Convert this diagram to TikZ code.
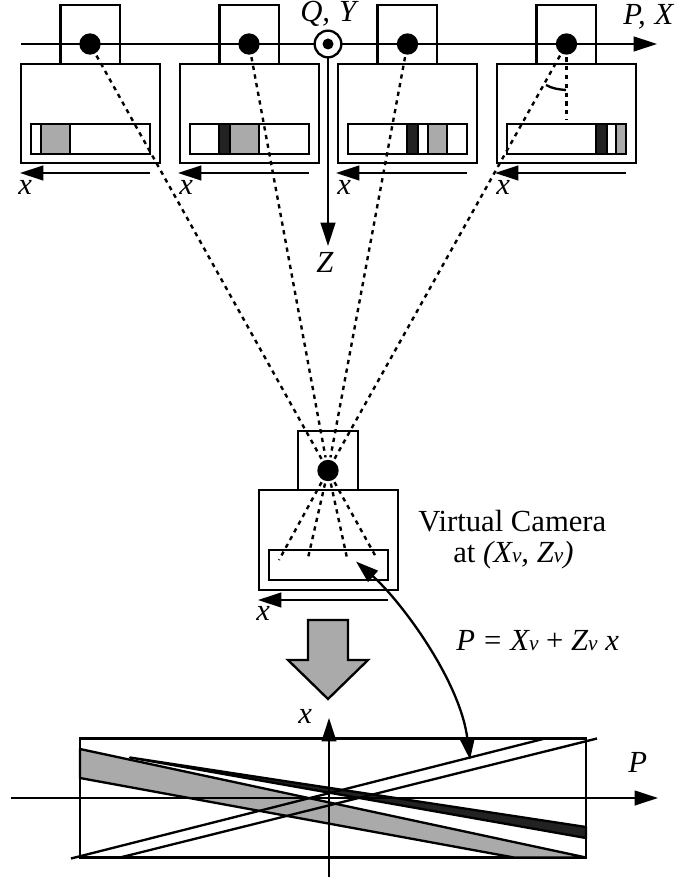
\documentclass[tikz,border=0pt]{standalone}
\usepackage{fontspec}
\setmainfont{Liberation Serif}
\usetikzlibrary{arrows.meta}
\definecolor{midgray}{HTML}{AAAAAA}
\definecolor{darkband}{HTML}{222222}
\newcommand{\vsub}{{\fontsize{16}{16}\selectfont\itshape v}}
\tikzset{
  thick line/.style={line width=1.75pt},
  thin line/.style={line width=1.45pt},
  headed/.style={-{Triangle[length=17.5pt,width=11pt]}},
  ray/.style={line width=1.8pt,dash pattern=on 3.2pt off 3.4pt},
  lens/.style={circle,fill=black,minimum size=16pt,inner sep=0pt,outer sep=2pt},
  lbl/.style={anchor=base west,inner sep=0pt,font=\fontsize{23}{26}\selectfont},
  ilbl/.style={lbl,font=\fontsize{23}{26}\selectfont\itshape},
  band/.style={thick line,draw=black,fill=midgray},
  dark/.style={thick line,draw=black,fill=darkband},
}
\begin{document}
\begin{tikzpicture}[x=0.75pt,y=-0.75pt]
\useasboundingbox (0,0) rectangle (678,884);
% real cameras
\foreach \cx/\n in {21/1,180/2,338/3,497/4}{
  \draw[thick line] (\cx+39.5,64) rectangle (\cx+99,5);
  \draw[thick line] (\cx,64) rectangle (\cx+139,163);
}
% image strips
\foreach \cx in {21,180,338,497}{\draw[thick line] (\cx+10,124) rectangle (\cx+129,154);}
\draw[band] (41,124) rectangle (70,154);
\draw[dark] (219,124) rectangle (230,154);
\draw[band] (230,124) rectangle (259,154);
\draw[dark] (407,124) rectangle (418,154);
\draw[band] (428,124) rectangle (447,154);
\draw[dark] (596,124) rectangle (607,154);
\draw[band] (616,124) rectangle (626,154);
% image axes
\coordinate (xa1) at (150,173); \coordinate (xb1) at (20,173);
\coordinate (xa2) at (309,173); \coordinate (xb2) at (178,173);
\coordinate (xa3) at (467,173); \coordinate (xb3) at (336,173);
\coordinate (xa4) at (626,173); \coordinate (xb4) at (495,173);
\foreach \n in {1,2,3,4}{\draw[thick line,headed] (xa\n) -- (xb\n);}
% world axes
\coordinate (pstart) at (21,44); \coordinate (pend) at (657,44);
\draw[thick line,headed] (pstart) -- (pend);
\node[lens] (l1) at (90,44) {};
\node[lens] (l2) at (249,44) {};
\node[lens] (l3) at (407.5,44) {};
\node[lens] (l4) at (566.5,44) {};
\node[circle,draw=black,fill=white,line width=1.75pt,minimum size=20pt,inner sep=0pt,outer sep=0pt] (origin) at (328,44) {};
\fill (origin.center) circle[radius=5.5];
\coordinate (zend) at (328,246);
\draw[thick line,headed] (origin) -- (zend);
% virtual camera
\draw[thick line] (298,490) rectangle (358,431);
\draw[thick line] (259,490) rectangle (398,590);
\draw[thick line] (269,550) rectangle (388,580);
\node[lens] (lv) at (328,470.5) {};
\coordinate (xav) at (388,600); \coordinate (xbv) at (258,600);
\draw[thick line,headed] (xav) -- (xbv);
% rays
\coordinate (s1) at (376,557); \coordinate (s2) at (347,558);
\coordinate (s3) at (308,558); \coordinate (s4) at (279,560);
\foreach \n in {1,2,3,4}{
  \draw[ray] (l\n) -- (lv);
  \draw[ray] (lv) -- (s\n);
}
\coordinate (perp) at (566.5,120);
\draw[ray] (l4) -- (perp);
\coordinate (anga) at (546,85); \coordinate (angb) at (566,90);
\draw[thick line] (anga) .. controls (552,88.5) and (559,89.5) .. (angb);
% big arrow
\draw[thick line,fill=midgray,line join=miter] (308,620) -- (348,620) -- (348,660) -- (368,660) -- (328,699) -- (288,660) -- (308,660) -- cycle;
% EPI
\draw[thick line] (80,738.5) rectangle (586,857.5);
\draw[thick line,fill=midgray,line join=round] (80,749) -- (586,857.5) -- (514,857.5) -- (80,778) -- cycle;
\draw[thick line,fill=darkband,line join=round] (130,757.5) -- (586,827) -- (586,838) -- cycle;
\coordinate (a1) at (71,858.5); \coordinate (a2) at (545,738.5);
\coordinate (b1) at (120,857.5); \coordinate (b2) at (597,738.5);
\draw[thick line] (a1) -- (a2);
\draw[thick line] (b1) -- (b2);
\coordinate (ps) at (11,798); \coordinate (pe) at (658,798);
\draw[thin line,headed] (ps) -- (pe);
\coordinate (xs) at (329,877); \coordinate (xe) at (329,718);
\draw[thin line,headed] (xs) -- (xe);
% curved relation arrow
\coordinate (ca) at (356,561.5); \coordinate (cb) at (470,759.5);
\draw[thick line,{Triangle[length=17pt,width=11pt]}-{Triangle[length=16pt,width=11pt]}] (ca) .. controls (400,600) and (460,680) .. (cb);
% labels
\node[ilbl] (tqy) at (300,22) {Q,\ \hspace{1pt}Y};
\node[ilbl] (tpx) at (623,25) {P,\ \hspace{1pt}X};
\node[ilbl] (tz) at (316,272) {Z};
\node[ilbl] (tx1) at (18,195) {x};
\node[ilbl] (tx2) at (179,195) {x};
\node[ilbl] (tx3) at (337,195) {x};
\node[ilbl] (tx4) at (496,195) {x};
\node[ilbl] (txv) at (256,620) {x};
\node[lbl] (tvc) at (418,531) {Virtual Camera};
\node[lbl] (tat) at (453,562) {at \textit{(X\vsub, Z\vsub)}};
\node[lbl] (teq) at (456,650) {\textit{P} \hspace{1pt}=\hspace{1pt} \textit{X\vsub} + \textit{Z\vsub\ x}};
\node[ilbl] (txe) at (298,723) {x};
\node[ilbl] (tpe) at (628,772) {P};
\end{tikzpicture}
\end{document}
